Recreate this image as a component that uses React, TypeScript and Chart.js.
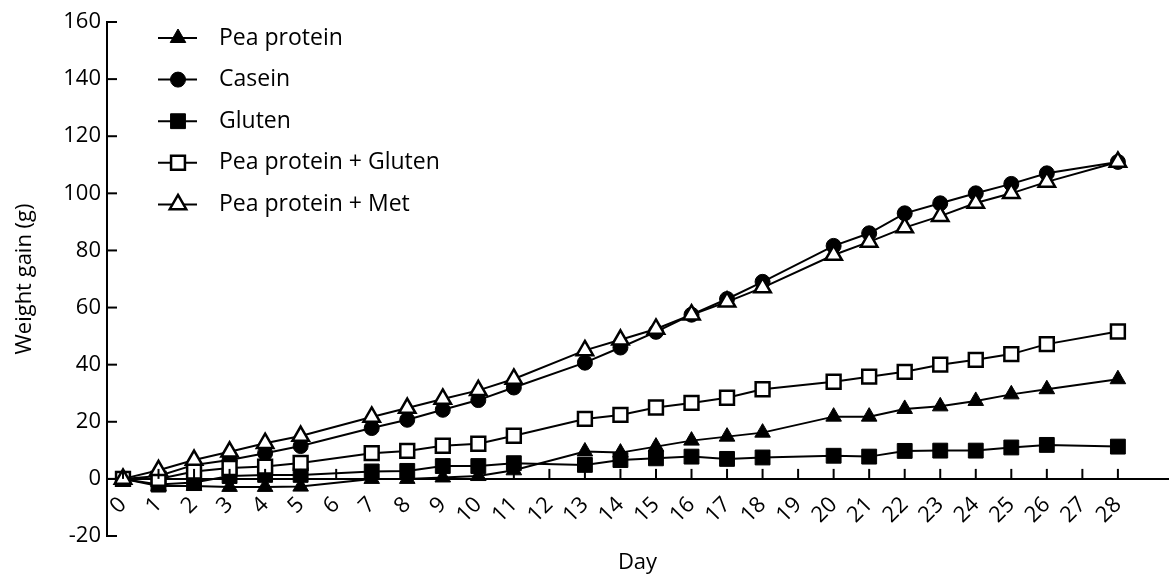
import React, { useEffect, useRef } from 'react';
import { Chart, registerables } from 'chart.js';
import { drawPoint } from 'chart.js/helpers';

Chart.register(...registerables);

const days = [0, 1, 2, 3, 4, 5, 7, 8, 9, 10, 11, 13, 14, 15, 16, 17, 18, 20, 21, 22, 23, 24, 25, 26, 28];
const peaProtein = [0, -2.5, -2.5, -2.8, -2.8, -2.7, 0, 0, 0.5, 1, 3, 9.6, 9.2, 11.3, 13.4, 14.8, 16.2, 21.8, 21.8, 24.5, 25.4, 27.3, 29.6, 31.4, 34.9];
const casein = [0, 1, 4.9, 6.6, 9, 11.5, 17.8, 20.7, 24.2, 27.6, 32, 40.7, 46, 51.5, 57.5, 63, 69, 81.6, 86, 93, 96.5, 100, 103.3, 107, 111];
const gluten = [0, -2, -1.3, 1, 1.4, 1.4, 2.6, 2.8, 4.5, 4.5, 5.5, 4.9, 6.6, 7.2, 7.8, 7, 7.5, 8.1, 7.8, 9.8, 9.9, 9.9, 11, 11.9, 11.3];
const peaGluten = [0, 0, 2.6, 3.8, 4.3, 5.6, 9, 9.8, 11.6, 12.3, 15.1, 21, 22.4, 25, 26.6, 28.4, 31.4, 34, 35.8, 37.5, 40, 41.7, 43.7, 47.2, 51.6];
const peaMet = [0, 3, 6.6, 9.5, 12.5, 15, 21.7, 24.8, 28, 31, 35, 45, 48.7, 52.5, 57.5, 62, 67, 78.4, 83, 88, 92, 96.6, 100, 104, 111];

const seriesNames = ['Pea protein', 'Casein', 'Gluten', 'Pea protein + Gluten', 'Pea protein + Met'];
const xTickDays = [0, 1, 2, 3, 4, 5, 6, 7, 8, 9, 10, 11, 12, 13, 14, 15, 16, 17, 18, 19, 20, 21, 22, 23, 24, 25, 26, 27, 28];
const yTickValues = [-20, 0, 20, 40, 60, 80, 100, 120, 140, 160];
const xTitle = 'Day';
const yTitle = 'Weight gain (g)';

const FONT = "'Open Sans', 'Noto Sans', sans-serif";

const toPoints = (vals: number[]) => days.map((d, i) => ({ x: d, y: vals[i] }));

const styles = [
  { pointStyle: 'triangle', radius: 9, fill: '#000', bw: 1 },
  { pointStyle: 'circle', radius: 7.5, fill: '#000', bw: 1 },
  { pointStyle: 'rect', radius: 10.5, fill: '#000', bw: 1 },
  { pointStyle: 'rect', radius: 9.8, fill: '#fff', bw: 2.5 },
  { pointStyle: 'triangle', radius: 9.5, fill: '#fff', bw: 2.5 },
];

const decorPlugin = {
  id: 'decor',
  afterDraw(chart: any) {
    const { ctx, scales } = chart;
    const x = scales.x;
    const y = scales.y;
    ctx.save();
    ctx.strokeStyle = '#000';
    ctx.lineWidth = 2;
    const left = chart.chartArea.left;
    yTickValues.forEach((v) => {
      const py = y.getPixelForValue(v);
      ctx.beginPath();
      ctx.moveTo(left, py);
      ctx.lineTo(left + 10, py);
      ctx.stroke();
    });
    const y0 = y.getPixelForValue(0);
    xTickDays.forEach((d) => {
      const px = x.getPixelForValue(d);
      ctx.beginPath();
      ctx.moveTo(px, y0);
      ctx.lineTo(px, y0 - 10);
      ctx.stroke();
    });
    // legend
    const lx0 = 158, lx1 = 197, mx = 178, tx = 219, top = 38, step = 41.6;
    chart.data.datasets.forEach((ds: any, i: number) => {
      const ry = top + i * step;
      ctx.strokeStyle = '#000';
      ctx.lineWidth = 2;
      ctx.beginPath();
      ctx.moveTo(lx0, ry);
      ctx.lineTo(lx1, ry);
      ctx.stroke();
      ctx.fillStyle = ds.pointBackgroundColor;
      ctx.strokeStyle = '#000';
      ctx.lineWidth = ds.pointBorderWidth;
      drawPoint(ctx, { pointStyle: ds.pointStyle, radius: ds.pointRadius, rotation: 0, borderWidth: ds.pointBorderWidth } as any, mx, ry);
      ctx.fillStyle = '#000';
      ctx.font = `23px ${FONT}`;
      ctx.textBaseline = 'middle';
      ctx.textAlign = 'left';
      ctx.fillText(ds.label, tx, ry);
    });
    ctx.restore();
  },
};

export default function App() {
  const ref = useRef<HTMLCanvasElement | null>(null);
  useEffect(() => {
    document.body.style.margin = '0';
    document.body.style.overflow = 'hidden';
    if (!ref.current) return;
    const seriesVals = [peaProtein, casein, gluten, peaGluten, peaMet];
    const orders = [4, 2, 3, 1, 0];
    const chart = new Chart(ref.current, {
      type: 'line',
      data: {
        datasets: seriesNames.map((name, i) => ({
          label: name,
          data: toPoints(seriesVals[i]),
          borderColor: '#000',
          borderWidth: 2,
          pointStyle: styles[i].pointStyle as any,
          pointRadius: styles[i].radius,
          pointHoverRadius: styles[i].radius,
          pointBackgroundColor: styles[i].fill,
          pointBorderColor: '#000',
          pointBorderWidth: styles[i].bw,
          tension: 0,
          fill: false,
          clip: false as any,
          order: orders[i],
        })),
      },
      options: {
        animation: false,
        responsive: true,
        maintainAspectRatio: false,
        layout: { autoPadding: false, padding: { left: 0, right: 1, top: 22, bottom: 40 } },
        plugins: { legend: { display: false }, tooltip: { enabled: false } },
        scales: {
          x: {
            type: 'linear',
            position: { y: 0 } as any,
            min: -0.45,
            max: 29.41,
            grid: { display: false, drawTicks: false },
            border: { display: true, color: '#000', width: 2 },
            afterBuildTicks: (s: any) => {
              s.ticks = s.ticks.filter((t: any) => t.value >= 0 && t.value <= 28);
            },
            ticks: {
              stepSize: 1,
              autoSkip: false,
              maxTicksLimit: 100,
              includeBounds: false,
              minRotation: 45,
              maxRotation: 45,
              padding: 13,
              color: '#000',
              font: { family: FONT, size: 22 },
            },
            title: {
              display: true,
              text: xTitle,
              color: '#000',
              font: { family: FONT, size: 22 },
              padding: 0,
            },
            afterFit: (s: any) => {
              s.height = 97;
              s.paddingLeft = 0;
              s.paddingRight = 0;
            },
          },
          y: {
            type: 'linear',
            min: -20,
            max: 160,
            grid: { display: false, drawTicks: false },
            border: { display: true, color: '#000', width: 2 },
            ticks: {
              stepSize: 20,
              padding: 6,
              color: '#000',
              font: { family: FONT, size: 22 },
            },
            title: {
              display: true,
              text: yTitle,
              color: '#000',
              font: { family: FONT, size: 22 },
              padding: { top: 12, bottom: 0 },
            },
            afterFit: (s: any) => {
              s.width = 107;
              s.paddingTop = 0;
              s.paddingBottom = 0;
            },
          },
        },
      },
      plugins: [decorPlugin],
    });
    return () => chart.destroy();
  }, []);
  return (
    <div style={{ position: 'fixed', left: 0, top: 0, width: '1169px', height: '576px' }}>
      <canvas ref={ref} />
    </div>
  );
}
